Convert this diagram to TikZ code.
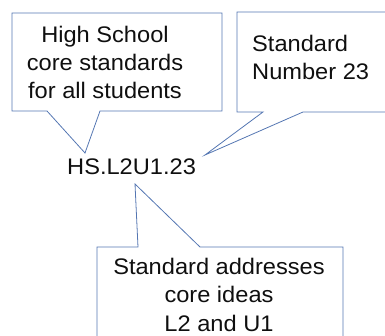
\documentclass[tikz,border=0pt]{standalone}
\usepackage{fontspec}
\setmainfont[FakeStretch=1.05]{Liberation Sans}
\definecolor{callline}{RGB}{84,118,178}
\definecolor{txt}{RGB}{15,15,15}
\begin{document}
\begin{tikzpicture}[x=1pt,y=1pt,
  callout/.style={draw=callline,line width=0.8pt,line join=miter},
  lbl/.style={inner sep=0pt,anchor=base,text=txt,font=\fontsize{22.5}{28}\selectfont},
  lbll/.style={lbl,anchor=base west}]
\useasboundingbox (0,0) rectangle (385,336);
\clip (0,0) rectangle (385,336);
% callout 1
\coordinate (tip1) at (85,183);
\draw[callout] (12,323) -- (222,323) -- (222,225) -- (100,225) -- (tip1) -- (47,225) -- (12,225) -- cycle;
% callout 2
\coordinate (tip2) at (205,181);
\draw[callout] (395,324) -- (237,324) -- (237,224) -- (263,224) -- (tip2) -- (303,224) -- (395,224);
% callout 3
\coordinate (tip3) at (135,152);
\draw[callout] (97,-10) -- (97,89) -- (138,89) -- (tip3) -- (200,89) -- (343,89) -- (343,-10);
% texts
\node[lbl] (a1) at (105,293) {High School};
\node[lbl] (a2) at (105,265) {core standards};
\node[lbl] (a3) at (105,237) {for all students};
\node[lbll] (b1) at (252,284) {Standard};
\node[lbll] (b2) at (252,256) {Number 23};
\node[lbll] (hs) at (67,161) {HS.L2U1.23};
\node[lbl] (c1) at (219,61) {Standard addresses};
\node[lbl] (c2) at (219,33) {core ideas};
\node[lbl] (c3) at (219,4) {L2 and U1};
\end{tikzpicture}
\end{document}
